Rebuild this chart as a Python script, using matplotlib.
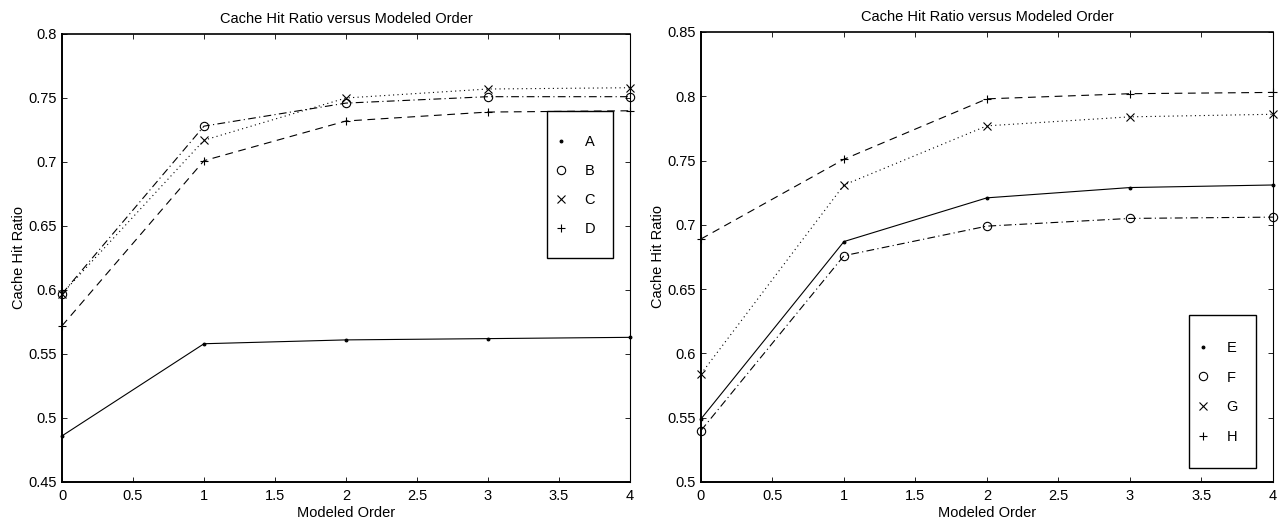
import matplotlib
matplotlib.use("Agg")
import matplotlib.pyplot as plt
from matplotlib.ticker import FuncFormatter
from matplotlib.lines import Line2D
from matplotlib.patches import Rectangle

# ---- data ----
order = [0, 1, 2, 3, 4]

left_names = ["A", "B", "C", "D"]
a_vals = [0.486, 0.558, 0.561, 0.562, 0.563]
b_vals = [0.597, 0.728, 0.746, 0.751, 0.751]
c_vals = [0.597, 0.717, 0.750, 0.757, 0.758]
d_vals = [0.572, 0.701, 0.732, 0.739, 0.740]

right_names = ["E", "F", "G", "H"]
e_vals = [0.549, 0.687, 0.721, 0.729, 0.731]
f_vals = [0.540, 0.676, 0.699, 0.705, 0.706]
g_vals = [0.584, 0.731, 0.777, 0.784, 0.786]
h_vals = [0.689, 0.751, 0.798, 0.802, 0.803]

# line style / marker per series (solid, dash-dot, dotted, dashed)
styles = [("-", "."),
          ((0, (7, 3, 1, 3)), "o"),
          ((0, (1, 3)), "x"),
          ((0, (7, 5)), "+")]

plt.rcParams["font.family"] = ["Liberation Sans", "DejaVu Sans"]

fig = plt.figure(figsize=(12.81, 5.21), dpi=100)
ax1 = fig.add_axes([0.0484, 0.0749, 0.4434, 0.8599])
ax2 = fig.add_axes([0.5472, 0.0749, 0.4465, 0.8637])

fmt = FuncFormatter(lambda v, p: f"{v:g}")


def mstyle(mk):
    # MATLAB-like: small filled dot, open circle, thin x and +
    if mk == ".":
        return dict(ms=4, mfc="black")
    return dict(ms=6, mfc="none")


def draw(ax, series, names, ylim, yticks, box, leg_anchor, spacing):
    for vals, (ls, mk) in zip(series, styles):
        ax.plot(order, vals, color="black", lw=0.8, ls=ls, marker=mk,
                mec="black", mew=0.8, clip_on=False, zorder=2,
                **mstyle(mk))
    ax.set_xlim(0, 4)
    ax.set_ylim(*ylim)
    ax.set_xticks([0, 0.5, 1, 1.5, 2, 2.5, 3, 3.5, 4])
    ax.set_yticks(yticks)
    ax.xaxis.set_major_formatter(fmt)
    ax.yaxis.set_major_formatter(fmt)
    ax.tick_params(direction="in", top=True, right=True, labelsize=10.5,
                   length=3.5, width=0.6)
    ax.tick_params(axis="x", pad=5)
    ax.tick_params(axis="y", pad=3.5)
    ax.spines["left"].set_linewidth(1.4)
    ax.spines["bottom"].set_linewidth(1.4)
    ax.spines["top"].set_linewidth(1.2)
    ax.spines["right"].set_linewidth(0.8)
    ax.set_title("Cache Hit Ratio versus Modeled Order", fontsize=10.5, pad=8)
    ax.set_xlabel("Modeled Order", fontsize=10.5, labelpad=2)
    ax.set_ylabel("Cache Hit Ratio", fontsize=10.5, labelpad=2)

    # legend box (white, covers the lines) + marker-only entries
    ax.add_patch(Rectangle(box[:2], box[2], box[3], transform=ax.transAxes,
                           facecolor="white", edgecolor="black", lw=1.0,
                           zorder=5, clip_on=False))
    handles = [Line2D([], [], ls="none", marker=mk, color="black",
                      mec="black", mew=0.8, **mstyle(mk))
               for _, mk in styles]
    leg = ax.legend(handles, names, loc="center left",
                    bbox_to_anchor=leg_anchor, bbox_transform=ax.transAxes,
                    fontsize=10.5, frameon=False, handlelength=1.0,
                    handletextpad=1.1, labelspacing=spacing, borderpad=0,
                    borderaxespad=0)
    leg.set_zorder(6)


draw(ax1, [a_vals, b_vals, c_vals, d_vals], left_names, (0.45, 0.8),
     [0.45, 0.5, 0.55, 0.6, 0.65, 0.7, 0.75, 0.8],
     (0.854, 0.5, 0.116, 0.328), (0.866, 0.662), 1.04)
draw(ax2, [e_vals, f_vals, g_vals, h_vals], right_names, (0.5, 0.85),
     [0.5, 0.55, 0.6, 0.65, 0.7, 0.75, 0.8, 0.85],
     (0.853, 0.031, 0.117, 0.340), (0.865, 0.199), 1.08)

fig.savefig("out.png", dpi=100)
